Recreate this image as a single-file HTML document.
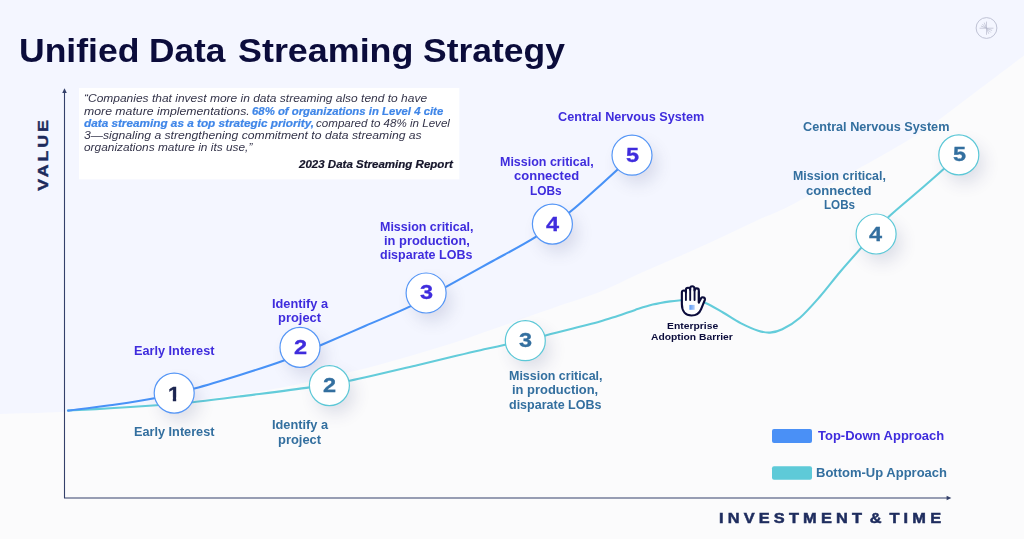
<!DOCTYPE html>
<html lang="en">
<head>
<meta charset="utf-8">
<title>Unified Data Streaming Strategy</title>
<style>
  html, body { margin: 0; padding: 0; }
  body { width: 1024px; height: 539px; overflow: hidden; background: #f4f6ff; font-family: "Liberation Sans", sans-serif; }
  #stage { position: relative; width: 1024px; height: 539px; overflow: hidden; background: #f4f6ff; }
  #gfx { position: absolute; left: 0; top: 0; }
  .t { position: absolute; white-space: nowrap; line-height: 1; font-weight: bold; transform-origin: 0 0; }
  #val { position: absolute; white-space: nowrap; line-height: 1; font-weight: bold; font-size: 14.6px; color: #1c2a5c; left: 42.7px; top: 154.2px; letter-spacing: 2.35px; -webkit-text-stroke: 0.4px #1c2a5c; transform: translate(-50%,-50%) rotate(-90deg) scaleX(1.22); }
</style>
</head>
<body>
<div id="stage">
<svg id="gfx" width="1024" height="539" viewBox="0 0 1024 539">
  <defs>
    <filter id="sh" x="-80%" y="-80%" width="260%" height="260%"><feGaussianBlur stdDeviation="8.5"/></filter>
    <linearGradient id="sq" x1="0" y1="0" x2="1" y2="0"><stop offset="0" stop-color="#5b9bf6"/><stop offset="1" stop-color="#b3cffb"/></linearGradient>
  </defs>
  <path d="M-40.0,415.5 C-33.3,415.2 -17.5,414.6 0.0,414.0 C17.5,413.4 40.0,413.2 65.0,411.8 C90.0,410.4 118.2,408.8 150.0,405.5 C181.8,402.2 227.7,396.4 256.0,392.0 C284.3,387.6 299.3,383.8 320.0,379.2 C340.7,374.6 360.0,370.0 380.0,364.6 C400.0,359.2 420.2,353.3 440.0,347.1 C459.8,340.9 479.1,334.0 498.6,327.2 C518.1,320.4 540.3,312.4 557.2,306.5 C574.1,300.6 586.4,297.2 600.0,291.8 C613.6,286.4 626.0,279.6 639.0,273.8 C652.0,268.0 665.1,262.6 678.1,256.8 C691.1,251.1 704.2,245.3 717.2,239.3 C730.2,233.3 743.3,226.8 756.3,220.7 C769.3,214.6 773.2,214.4 795.3,202.9 C817.4,191.4 866.3,164.5 889.0,151.5 C911.7,138.5 917.2,134.8 931.5,125.0 C945.8,115.2 960.6,103.3 975.0,92.5 C989.4,81.7 998.8,74.6 1018.0,60.0 C1037.2,45.4 1078.0,14.2 1090.0,5.0 L1090,560 L-40,560 Z" fill="#fbfbfc"/>
  <rect x="79" y="88" width="380.3" height="91.4" fill="#ffffff"/>
  <path d="M64.5,92 V498 H947" fill="none" stroke="#34406a" stroke-width="1.1"/>
  <path d="M64.5,88.3 L62.2,93 H66.8 Z" fill="#34406a"/>
  <path d="M951.4,498 L946.6,495.7 V500.3 Z" fill="#34406a"/>
  <path d="M67.9,410.5 C74.9,410.1 95.2,409.2 110.0,408.3 C124.8,407.4 142.8,406.2 156.6,405.2 C170.4,404.2 178.7,403.7 192.6,402.2 C206.5,400.7 220.5,398.9 240.0,396.4 C259.5,393.9 291.5,390.0 309.8,387.4 C328.1,384.8 331.7,384.5 349.6,380.8 C367.5,377.1 399.4,369.4 417.2,365.2 C435.0,361.0 445.8,358.3 456.3,355.8 C466.8,353.3 472.3,352.0 480.4,350.2 C488.5,348.4 494.1,347.3 505.0,344.8 C515.9,342.3 532.9,338.4 545.5,335.4 C558.1,332.4 571.5,328.9 580.6,326.6 C589.7,324.3 593.8,323.4 600.0,321.6 C606.2,319.8 611.7,317.9 617.6,316.0 C623.5,314.1 629.4,311.8 635.2,309.9 C641.1,308.0 646.9,306.0 652.7,304.6 C658.6,303.2 665.6,302.1 670.3,301.4 C675.0,300.7 677.4,300.6 680.9,300.3 C684.4,300.0 686.9,299.4 691.0,299.8 C695.1,300.2 700.2,300.8 705.5,302.9 C710.8,305.0 717.1,309.1 723.0,312.5 C728.9,315.9 734.7,320.1 740.6,323.1 C746.5,326.1 753.3,329.1 758.2,330.7 C763.1,332.3 766.0,332.8 770.0,332.6 C774.0,332.4 777.3,331.8 782.3,329.3 C787.3,326.8 793.7,323.2 800.0,317.7 C806.3,312.2 813.3,304.1 820.0,296.5 C826.7,288.9 833.2,280.0 840.0,272.0 C846.8,264.0 854.7,255.2 860.5,248.6 C866.3,242.0 870.2,237.9 875.0,232.6 C879.8,227.2 880.7,224.3 889.0,216.5 C897.3,208.7 913.4,195.7 925.0,185.5 C936.6,175.3 953.2,160.5 958.8,155.5" fill="none" stroke="#63ccda" stroke-width="2.1" stroke-linecap="round"/>
  <path d="M68.2,410.6 C75.2,409.7 95.7,407.4 110.0,405.3 C124.3,403.2 140.2,401.0 154.3,398.2 C168.4,395.4 180.0,392.4 194.3,388.5 C208.6,384.6 225.2,379.5 240.0,374.9 C254.8,370.3 269.8,365.6 283.2,360.7 C296.6,355.8 307.0,351.0 320.6,345.2 C334.2,339.4 350.1,332.5 365.0,326.0 C379.9,319.5 396.7,312.9 410.2,306.4 C423.7,299.9 432.7,294.2 446.0,286.9 C459.3,279.6 475.0,270.9 490.0,262.5 C505.0,254.2 522.4,245.2 535.8,236.8 C549.2,228.4 560.3,219.6 570.2,211.8 C580.1,204.0 587.1,197.1 595.0,190.0 C602.9,182.9 611.4,175.1 617.6,169.4 C623.8,163.7 629.6,158.1 632.0,155.8" fill="none" stroke="#4892f7" stroke-width="2.1" stroke-linecap="round"/>
  <g fill="#2a3270" opacity="0.15" filter="url(#sh)"><circle cx="180.2" cy="402.1" r="19"/><circle cx="306.0" cy="356.4" r="19"/><circle cx="432.1" cy="302.0" r="19"/><circle cx="558.4" cy="233.1" r="19"/><circle cx="638.0" cy="164.2" r="19"/><circle cx="335.4" cy="394.6" r="19"/><circle cx="531.3" cy="349.7" r="19"/><circle cx="882.1" cy="243.0" r="19"/><circle cx="964.8" cy="163.9" r="19"/></g>
  <g fill="#ffffff" stroke="#5596f6" stroke-width="1.2"><circle cx="174.2" cy="393.1" r="20"/><circle cx="300.0" cy="347.4" r="20"/><circle cx="426.1" cy="293.0" r="20"/><circle cx="552.4" cy="224.1" r="20"/><circle cx="632.0" cy="155.2" r="20"/></g>
  <g fill="#ffffff" stroke="#5cc8d7" stroke-width="1.2"><circle cx="329.4" cy="385.6" r="20"/><circle cx="525.3" cy="340.7" r="20"/><circle cx="876.1" cy="234.0" r="20"/><circle cx="958.8" cy="154.9" r="20"/></g>
  <rect x="772" y="429" width="40" height="14" rx="2" fill="#4a90f6"/>
  <rect x="772" y="466.2" width="40" height="13.6" rx="2" fill="#5ecad8"/>
  <g id="hand" transform="translate(693 301) scale(1.04 1.015) translate(-693 -301)" fill="#ffffff" stroke="#0b0c3b" stroke-width="2.05" stroke-linejoin="round" stroke-linecap="round">
    <path d="M682.3,304 V292.6 a1.95,1.95 0 0 1 3.9,0 V290 a2.05,2.05 0 0 1 4.1,0 V288.6 a2.1,2.1 0 0 1 4.2,0 V290.6 a2.05,2.05 0 0 1 4.1,0 V302.5 l2.2,-4.3 a2,2 0 0 1 3.6,1.6 l-3.6,9.2 c-1.6,4.2 -4.8,6.3 -9.2,6.3 c-5.6,0 -9.3,-3.9 -9.3,-11.3 Z"/>
    <path d="M686.2,292.6 V300 M690.3,290 V300 M694.5,288.6 V300 M698.6,292 V302.5" fill="none" stroke-width="1.8"/>
  </g>
  <rect x="689.4" y="304.9" width="5.3" height="4.9" fill="url(#sq)"/>
  <circle cx="986.5" cy="28" r="10.4" fill="none" stroke="#bcbfd2" stroke-width="0.95"/>
  <path d="M986.5,22.0 V34.4 M979.9,28.2 H993.1 M986.5,28.2 L981.3,26.1 M986.5,28.2 L991.7,30.3 M986.5,28.2 L982.5,24.2 M986.5,28.2 L990.5,32.2 M986.5,28.2 L984.4,23.0 M986.5,28.2 L988.6,33.4" fill="none" stroke="#b7bacd" stroke-width="0.7" stroke-linecap="round"/>
</svg>
<div id="val">VALUE</div>
<span class="t" style="left:18.9px;top:33.5px;font-size:33px;color:#0b0c3b;transform:scaleX(1.0767);">Unified</span>
<span class="t" style="left:148.9px;top:33.5px;font-size:33px;color:#0b0c3b;transform:scaleX(1.0688);">Data</span>
<span class="t" style="left:238.1px;top:33.5px;font-size:33px;color:#0b0c3b;transform:scaleX(1.0872);">Streaming</span>
<span class="t" style="left:423.2px;top:33.5px;font-size:33px;color:#0b0c3b;transform:scaleX(1.0746);">Strategy</span>
<span class="t" style="left:83.7px;top:94.1px;font-size:10.3px;color:#34344a;font-weight:normal;font-style:italic;transform:scaleX(1.1639);">“Companies that invest more in data streaming also tend to have</span>
<span class="t" style="left:83.7px;top:106.6px;font-size:10.3px;color:#34344a;font-weight:normal;font-style:italic;transform:scaleX(1.1917);">more mature implementations.</span>
<span class="t" style="left:252.2px;top:106.6px;font-size:10.3px;color:#3f86e8;font-style:italic;-webkit-text-stroke:0.2px #3f86e8;transform:scaleX(1.1028);">68% of organizations in Level 4 cite</span>
<span class="t" style="left:83.7px;top:118.5px;font-size:10.3px;color:#3f86e8;font-style:italic;-webkit-text-stroke:0.2px #3f86e8;transform:scaleX(1.1412);">data streaming as a top strategic priority,</span>
<span class="t" style="left:315.8px;top:118.5px;font-size:10.3px;color:#34344a;font-weight:normal;font-style:italic;transform:scaleX(1.1247);">compared to 48% in Level</span>
<span class="t" style="left:83.7px;top:131.0px;font-size:10.3px;color:#34344a;font-weight:normal;font-style:italic;transform:scaleX(1.1823);">3—signaling a strengthening commitment to data streaming as</span>
<span class="t" style="left:83.7px;top:143.3px;font-size:10.3px;color:#34344a;font-weight:normal;font-style:italic;transform:scaleX(1.1535);">organizations mature in its use,”</span>
<span class="t" style="left:299.4px;top:160.3px;font-size:10.3px;color:#15152a;font-style:italic;-webkit-text-stroke:0.2px #15152a;transform:scaleX(1.1194);">2023 Data Streaming Report</span>
<span class="t" style="left:133.5px;top:345.0px;font-size:12.2px;color:#3f2cdd;transform:scaleX(1.0419);">Early Interest</span>
<span class="t" style="left:271.6px;top:297.5px;font-size:12.2px;color:#3f2cdd;transform:scaleX(1.0480);">Identify a</span>
<span class="t" style="left:278.4px;top:311.7px;font-size:12.2px;color:#3f2cdd;transform:scaleX(1.0598);">project</span>
<span class="t" style="left:380.0px;top:220.7px;font-size:12.2px;color:#3f2cdd;transform:scaleX(1.0225);">Mission critical,</span>
<span class="t" style="left:383.6px;top:235.0px;font-size:12.2px;color:#3f2cdd;transform:scaleX(1.0575);">in production,</span>
<span class="t" style="left:380.0px;top:249.0px;font-size:12.2px;color:#3f2cdd;transform:scaleX(1.0255);">disparate LOBs</span>
<span class="t" style="left:499.5px;top:155.8px;font-size:12.2px;color:#3f2cdd;transform:scaleX(1.0236);">Mission critical,</span>
<span class="t" style="left:513.8px;top:170.3px;font-size:12.2px;color:#3f2cdd;transform:scaleX(1.0677);">connected</span>
<span class="t" style="left:530.1px;top:184.5px;font-size:12.2px;color:#3f2cdd;transform:scaleX(0.9748);">LOBs</span>
<span class="t" style="left:558.3px;top:110.5px;font-size:12.2px;color:#3f2cdd;transform:scaleX(1.0386);">Central Nervous System</span>
<span class="t" style="left:818.1px;top:429.9px;font-size:12.2px;color:#3f2cdd;transform:scaleX(1.0652);">Top-Down Approach</span>
<span class="t" style="left:133.5px;top:425.8px;font-size:12.2px;color:#336f9f;transform:scaleX(1.0419);">Early Interest</span>
<span class="t" style="left:271.6px;top:419.3px;font-size:12.2px;color:#336f9f;transform:scaleX(1.0480);">Identify a</span>
<span class="t" style="left:278.4px;top:433.5px;font-size:12.2px;color:#336f9f;transform:scaleX(1.0598);">project</span>
<span class="t" style="left:508.7px;top:370.1px;font-size:12.2px;color:#336f9f;transform:scaleX(1.0225);">Mission critical,</span>
<span class="t" style="left:512.2px;top:384.4px;font-size:12.2px;color:#336f9f;transform:scaleX(1.0612);">in production,</span>
<span class="t" style="left:508.7px;top:398.7px;font-size:12.2px;color:#336f9f;transform:scaleX(1.0266);">disparate LOBs</span>
<span class="t" style="left:792.9px;top:170.4px;font-size:12.2px;color:#336f9f;transform:scaleX(1.0159);">Mission critical,</span>
<span class="t" style="left:806.2px;top:185.0px;font-size:12.2px;color:#336f9f;transform:scaleX(1.0743);">connected</span>
<span class="t" style="left:823.5px;top:199.3px;font-size:12.2px;color:#336f9f;transform:scaleX(0.9564);">LOBs</span>
<span class="t" style="left:802.7px;top:121.1px;font-size:12.2px;color:#336f9f;transform:scaleX(1.0393);">Central Nervous System</span>
<span class="t" style="left:815.8px;top:467.0px;font-size:12.2px;color:#336f9f;transform:scaleX(1.0670);">Bottom-Up Approach</span>
<span class="t" style="left:667.3px;top:321.6px;font-size:9.2px;color:#0b0c3b;transform:scaleX(1.1250);">Enterprise</span>
<span class="t" style="left:651.3px;top:332.9px;font-size:9.2px;color:#0b0c3b;transform:scaleX(1.1196);">Adoption Barrier</span>
<span class="t" style="left:718.8px;top:510.7px;font-size:14.6px;color:#1e2c5e;letter-spacing:3.73px;word-spacing:-4.5px;transform:scaleX(1.12);-webkit-text-stroke:0.5px #1e2c5e;">INVESTMENT &amp; TIME</span>
<span class="t" style="left:168.1px;top:384.0px;font-size:20.8px;color:#1c2550;-webkit-text-stroke:0.35px #1c2550;clip-path:polygon(0 0,100% 0,100% 65%,68% 65%,68% 100%,40% 100%,40% 65%,0 65%);transform:scaleX(1.04);">1</span>
<span class="t" style="left:293.8px;top:337.0px;font-size:20.8px;color:#3f2cdd;transform:scaleX(1.13);-webkit-text-stroke:0.3px #3f2cdd;">2</span>
<span class="t" style="left:419.9px;top:282.3px;font-size:20.8px;color:#3f2cdd;transform:scaleX(1.13);-webkit-text-stroke:0.3px #3f2cdd;">3</span>
<span class="t" style="left:545.6px;top:213.5px;font-size:20.8px;color:#3f2cdd;transform:scaleX(1.13);-webkit-text-stroke:0.3px #3f2cdd;">4</span>
<span class="t" style="left:625.8px;top:144.6px;font-size:20.8px;color:#3f2cdd;transform:scaleX(1.13);-webkit-text-stroke:0.3px #3f2cdd;">5</span>
<span class="t" style="left:323.2px;top:375.0px;font-size:20.8px;color:#336f9f;transform:scaleX(1.13);-webkit-text-stroke:0.3px #336f9f;">2</span>
<span class="t" style="left:519.1px;top:330.1px;font-size:20.8px;color:#336f9f;transform:scaleX(1.13);-webkit-text-stroke:0.3px #336f9f;">3</span>
<span class="t" style="left:869.1px;top:223.6px;font-size:20.8px;color:#336f9f;transform:scaleX(1.13);-webkit-text-stroke:0.3px #336f9f;">4</span>
<span class="t" style="left:952.6px;top:144.3px;font-size:20.8px;color:#336f9f;transform:scaleX(1.13);-webkit-text-stroke:0.3px #336f9f;">5</span>
</div>
</body>
</html>
